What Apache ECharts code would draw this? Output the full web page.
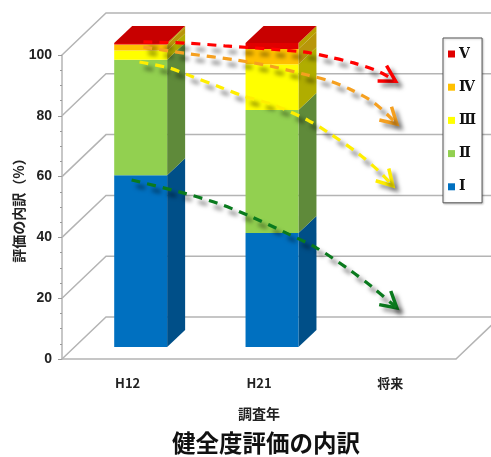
<!DOCTYPE html>
<html>
<head>
<meta charset="utf-8">
<style>
  html, body { margin: 0; padding: 0; background: #fff; }
  #chart { width: 491px; height: 457px; }
</style>
<script src="https://cdn.jsdelivr.net/npm/echarts@6/dist/echarts.min.js"></script>
</head>
<body>
<div id="chart"></div>
<script>
const categories = ["H12", "H21", "将来"];
const yTicks = [0, 20, 40, 60, 80, 100];

// 健全度ごとの割合 (%)
const gradeNames = ["Ⅰ", "Ⅱ", "Ⅲ", "Ⅳ", "Ⅴ"];
const grade1 = [56.5, 37.5, null];
const grade2 = [38, 40.5, null];
const grade3 = [3, 15, null];
const grade4 = [2, 5, null];
const grade5 = [0.5, 2, null];
const gradeValues = [grade1, grade2, grade3, grade4, grade5];

// 矢印の通り道 [カテゴリ位置, 値]
const arrowRed = [[0.62, 104.3], [0.95, 103.9], [1.24, 103], [1.84, 101], [2.04, 99.3], [2.22, 97.4], [2.42, 94.4], [2.54, 91.4]];
const arrowOrange = [[0.62, 102.6], [0.98, 100.3], [1.32, 98.4], [1.58, 96.4], [1.87, 93.4], [2.04, 91.4], [2.19, 88.8], [2.37, 84.5], [2.55, 77.3]];
const arrowYellow = [[0.59, 97.7], [0.82, 95.7], [0.98, 93.1], [1.2, 89.5], [1.36, 86.8], [1.61, 83.6], [1.87, 78.6], [2.02, 74.7], [2.25, 67.8], [2.42, 61.5], [2.52, 56.9]];
const arrowGreen = [[0.53, 58.9], [0.9, 54.9], [1.18, 51.3], [1.43, 47], [1.71, 41.4], [1.94, 36.5], [2.19, 29.3], [2.37, 23.4], [2.55, 16.8]];

const frontColors = ["#0070c0", "#92d050", "#ffff00", "#ffc000", "#e00000"];
const sideColors = ["#004f88", "#5f8a3a", "#b0ad00", "#b8960a", "#b8a000"];
const arrowColors = ["#ff0000", "#f5a020", "#ffee00", "#0a7a1e"];
const arrowPaths = [arrowRed, arrowOrange, arrowYellow, arrowGreen];

const chart = echarts.init(document.getElementById("chart"));

// 奥行き (px)
const wallDx = 44, wallDy = -42;
const barDx = 13, barDy = -12;
const depthDx = 18, depthDy = -17;

function renderWall(params, api) {
  const v = api.value(0);
  const a = api.coord([0, v]);
  const b = api.coord([3, v]);
  const points = [a, [a[0] + wallDx, a[1] + wallDy], [b[0] + wallDx, b[1] + wallDy]];
  if (v === 0) points.push(b);
  return {
    type: "polyline",
    shape: { points: points },
    style: { fill: "none", stroke: "#b4b4b4", lineWidth: 1.5 },
  };
}

function renderBlock(gradeIndex) {
  return function (params, api) {
    const k = api.value(0);
    const v = gradeValues[gradeIndex][k];
    if (v == null) return null;
    let base = 0;
    for (let i = 0; i < gradeIndex; i++) base += gradeValues[i][k];
    const center = api.coord([k, base]);
    const top = api.coord([k, base + v]);
    const w = api.size([1, 0])[0] * 0.403;
    const x0 = center[0] - w / 2 + barDx;
    const x1 = x0 + w;
    const y0 = center[1] + barDy;
    const y1 = top[1] + barDy;
    const children = [
      {
        type: "polygon",
        shape: { points: [[x1, y0], [x1 + depthDx, y0 + depthDy], [x1 + depthDx, y1 + depthDy], [x1, y1]] },
        style: { fill: sideColors[gradeIndex] },
      },
      {
        type: "rect",
        shape: { x: x0, y: y1, width: w, height: y0 - y1 },
        style: { fill: frontColors[gradeIndex] },
      },
    ];
    if (gradeIndex === gradeValues.length - 1) {
      children.push({
        type: "polygon",
        shape: { points: [[x0, y1], [x0 + depthDx, y1 + depthDy], [x1 + depthDx, y1 + depthDy], [x1, y1]] },
        style: { fill: "#c80000" },
      });
    }
    return { type: "group", children: children };
  };
}

function renderHead(pathIndex) {
  return function (params, api) {
    const path = arrowPaths[pathIndex];
    const tip = api.coord(path[path.length - 1]);
    const prev = api.coord(path[path.length - 2]);
    const angle = Math.atan2(tip[1] - prev[1], tip[0] - prev[0]);
    const len = 18;
    const wing = a => [tip[0] - len * Math.cos(a), tip[1] - len * Math.sin(a)];
    return {
      type: "polyline",
      shape: { points: [wing(angle - 0.52), tip, wing(angle + 0.52)] },
      style: {
        fill: "none",
        stroke: arrowColors[pathIndex],
        lineWidth: 3.5,
        shadowColor: "rgba(0,0,0,0.5)",
        shadowBlur: 4,
        shadowOffsetX: 4,
        shadowOffsetY: 4,
      },
    };
  };
}

const series = [
  {
    type: "custom",
    name: "wall",
    xAxisIndex: 1,
    clip: false,
    z: 1,
    silent: true,
    renderItem: renderWall,
    data: yTicks.map(v => [v]),
    encode: { y: 0 },
  },
];

gradeNames.forEach((name, i) => {
  series.push({
    type: "custom",
    name: name,
    clip: false,
    z: 3,
    itemStyle: { color: frontColors[i] },
    renderItem: renderBlock(i),
    data: gradeValues[i].map((v, k) => [k, v]),
    encode: { x: 0, y: 1 },
  });
});

arrowPaths.forEach((path, i) => {
  series.push({
    type: "line",
    name: "arrow" + i,
    xAxisIndex: 1,
    data: path,
    smooth: 0.3,
    clip: false,
    z: 5,
    symbol: "none",
    lineStyle: {
      color: arrowColors[i],
      width: 3.2,
      type: [9, 7],
      shadowColor: "rgba(0,0,0,0.5)",
      shadowBlur: 4,
      shadowOffsetX: 5,
      shadowOffsetY: 6,
    },
  });
  series.push({
    type: "custom",
    name: "head" + i,
    xAxisIndex: 1,
    clip: false,
    z: 5,
    renderItem: renderHead(i),
    data: [path[path.length - 1]],
    encode: { x: 0, y: 1 },
  });
});

chart.setOption({
  animation: false,
  backgroundColor: "#fff",
  title: {
    text: "健全度評価の内訳",
    left: 261,
    top: 426,
    textAlign: "center",
    textStyle: { fontFamily: "Noto Sans CJK JP", fontSize: 23.5, fontWeight: "bold", color: "#111" },
  },
  legend: {
    orient: "vertical",
    left: 443,
    top: 38,
    width: 36,
    data: gradeNames.slice().reverse(),
    icon: "rect",
    itemWidth: 7,
    itemHeight: 7,
    itemGap: 19.2,
    padding: [9, 6, 9, 5],
    backgroundColor: "#fff",
    borderColor: "#555",
    borderWidth: 1,
    shadowColor: "rgba(0,0,0,0.2)",
    shadowBlur: 2,
    shadowOffsetX: 1,
    shadowOffsetY: 1,
    z: 10,
    textStyle: { fontFamily: "DejaVu Serif", fontSize: 14, fontWeight: "bold", color: "#111", padding: [0, 0, 0, -1] },
  },
  grid: { left: 62, right: 35, top: 55, bottom: 98, outerBoundsMode: "none" },
  xAxis: [
    {
      type: "category",
      data: categories,
      name: "調査年",
      nameLocation: "middle",
      nameGap: 48,
      nameTextStyle: { fontFamily: "Noto Sans CJK JP", fontSize: 14, fontWeight: "bold", color: "#222" },
      axisLine: { lineStyle: { color: "#b4b4b4", width: 1.5 } },
      axisTick: { length: 4, lineStyle: { color: "#999" } },
      axisLabel: { margin: 18, fontFamily: "Noto Sans CJK JP", fontSize: 13, fontWeight: "bold", color: "#222" },
      z: 2,
    },
    { type: "value", min: 0, max: 3, show: false },
  ],
  yAxis: {
    type: "value",
    min: 0,
    max: 100,
    interval: 20,
    name: "評価の内訳（%）",
    nameLocation: "middle",
    nameGap: 36,
    nameMoveOverlap: false,
    nameTextStyle: { fontFamily: "Noto Sans CJK JP", fontSize: 14, fontWeight: "bold", color: "#222" },
    axisLine: { show: true, lineStyle: { color: "#b4b4b4", width: 1.5 } },
    axisTick: { show: true, length: 4, lineStyle: { color: "#999" } },
    minorTick: { show: true, splitNumber: 4, length: 2, lineStyle: { color: "#999" } },
    splitLine: { show: false },
    axisLabel: { margin: 10, fontFamily: "Liberation Sans", fontSize: 14, fontWeight: "bold", color: "#222" },
  },
  series: series,
});
</script>
</body>
</html>
